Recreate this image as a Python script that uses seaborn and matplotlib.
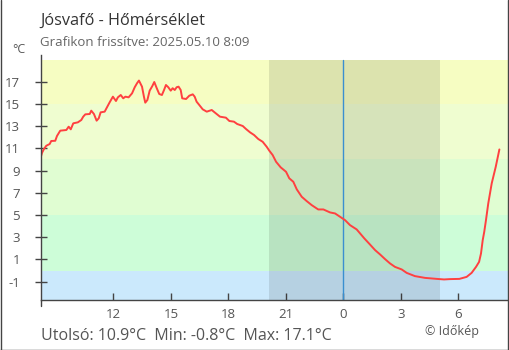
import matplotlib
matplotlib.use("Agg")
import matplotlib.pyplot as plt
from matplotlib.lines import Line2D
import seaborn as sns
import pandas as pd

# ---- data (hours since start of previous day; 24 = midnight) ----
hours = [8.20, 8.27, 8.37, 8.49, 8.67, 8.75, 8.96, 9.05, 9.22, 9.54, 9.66, 9.77, 9.90,
         10.14, 10.32, 10.42, 10.53, 10.76, 10.84, 10.98, 11.12, 11.23, 11.33, 11.54,
         11.66, 11.80, 11.97, 12.13, 12.23, 12.38, 12.51, 12.62, 12.79, 12.97, 13.11,
         13.23, 13.33, 13.49, 13.59, 13.66, 13.77, 13.89, 14.03, 14.13, 14.26, 14.39,
         14.53, 14.64, 14.74, 14.86, 14.99, 15.09, 15.20, 15.30, 15.40, 15.51, 15.59,
         15.79, 15.96, 16.14, 16.24, 16.34, 16.48, 16.66, 16.87, 17.13, 17.30, 17.56,
         17.87, 18.05, 18.29, 18.46, 18.75, 18.92, 19.13, 19.34, 19.56, 19.79, 20.00,
         20.14, 20.31, 20.49, 20.73, 21.01, 21.18, 21.39, 21.57, 21.83, 22.09, 22.35,
         22.69, 22.96, 23.31, 23.57, 23.83, 24.09, 24.35, 24.70, 25.10, 25.39, 25.66,
         25.92, 26.18, 26.44, 26.70, 27.05, 27.31, 27.74, 28.27, 28.88, 29.26, 29.57,
         30.06, 30.44, 30.70, 30.93, 31.09, 31.19, 31.28, 31.36, 31.45, 31.57, 31.75,
         31.96, 32.15]
temps = [10.19, 10.60, 10.94, 11.23, 11.39, 11.66, 11.68, 12.11, 12.59, 12.65, 12.95,
         12.71, 13.25, 13.34, 13.55, 13.85, 14.06, 14.09, 14.39, 14.09, 13.49, 13.70,
         14.24, 14.30, 14.69, 15.14, 15.65, 15.26, 15.59, 15.80, 15.50, 15.65, 15.59,
         15.95, 16.50, 16.86, 17.10, 16.55, 15.65, 15.11, 15.35, 16.19, 16.61, 16.97,
         16.41, 15.89, 15.80, 16.25, 16.70, 16.50, 16.19, 16.41, 16.25, 16.50, 16.55,
         16.25, 15.50, 15.44, 15.74, 15.86, 15.65, 15.20, 14.90, 14.51, 14.30, 14.45,
         14.21, 13.85, 13.76, 13.46, 13.40, 13.19, 13.01, 12.74, 12.44, 12.20, 11.84,
         11.59, 11.14, 10.78, 10.40, 9.79, 9.29, 8.89, 8.30, 7.99, 7.31, 6.64, 6.25,
         5.89, 5.50, 5.50, 5.23, 5.14, 4.84, 4.54, 4.09, 3.70, 2.89, 2.35, 1.84, 1.45,
         1.03, 0.64, 0.33, 0.10, -0.21, -0.50, -0.66, -0.75, -0.80, -0.77, -0.75,
         -0.57, -0.21, 0.33, 0.78, 1.54, 2.74, 3.49, 4.54, 6.05, 7.85, 9.34, 10.90]

ytick_values = [-1, 1, 3, 5, 7, 9, 11, 13, 15, 17]
xtick_positions = [12, 15, 18, 21, 24, 27, 30]
xtick_labels = ["12", "15", "18", "21", "0", "3", "6"]

band_edges = [-10, 0, 5, 10, 15, 18.95]
band_colors = ["#cbe9fc", "#cdfdd8", "#e0fdd2", "#effdd0", "#f6fdc2"]
night_start, night_end = 20.12, 29.05
midnight = 24

title = "Jósvafő - Hőmérséklet"
subtitle = "Grafikon frissítve: 2025.05.10 8:09"
unit = "°C"
footer = "Utolsó: 10.9°C  Min: -0.8°C  Max: 17.1°C"
credit = "© Időkép"

# ---- style ----
sns.set_theme(style="white")
plt.rcParams["font.family"] = ["Open Sans", "DejaVu Sans"]

W, H = 510, 350
fig = plt.figure(figsize=(W / 100, H / 100), dpi=100)
fig.patch.set_facecolor("white")

ax_left, ax_right, ax_top, ax_bottom = 40.7, 508.0, 55.0, 300.0
ax = fig.add_axes([ax_left / W, 1 - ax_bottom / H, (ax_right - ax_left) / W,
                   (ax_bottom - ax_top) / H])
ax.set_facecolor("white")
ylo, yhi = -2.65, 19.4
ax.set_ylim(ylo, yhi)
ax.set_xlim(8.2, 32.6)

for lo, hi, c in zip(band_edges[:-1], band_edges[1:], band_colors):
    ax.axhspan(lo, hi, color=c, lw=0, zorder=0)

band_top_frac = (band_edges[-1] - ylo) / (yhi - ylo)
ax.axvspan(night_start, night_end, ymin=0, ymax=band_top_frac, color="black",
           alpha=0.1, lw=0, zorder=1)
ax.axvline(midnight, ymin=0, ymax=band_top_frac, color="#3a8fd0", lw=1, zorder=2)

df = pd.DataFrame({"h": hours, "t": temps})
sns.lineplot(data=df, x="h", y="t", ax=ax, color="#ff4040", lw=1.4, zorder=3)

ax.set_xlabel("")
ax.set_ylabel("")
ax.set_yticks(ytick_values)
ax.set_yticklabels([str(v) for v in ytick_values])
ax.set_xticks(xtick_positions)
ax.set_xticklabels(xtick_labels)

for s in ["top", "right"]:
    ax.spines[s].set_visible(False)
for s in ["left", "bottom"]:
    ax.spines[s].set_color("#444444")
    ax.spines[s].set_linewidth(1)
    ax.spines[s].set_zorder(5)

ax.tick_params(axis="y", direction="inout", length=8.6, width=1, color="#444444",
               pad=10.6, labelsize=9.5, labelcolor="#555555", left=True)
ax.tick_params(axis="x", direction="in", length=5, width=1, color="#444444",
               pad=6, labelsize=9.5, labelcolor="#555555", bottom=True)

# small extension of the y axis below the x axis
ax.axvline(ax.get_xlim()[0], ymin=-0.025, ymax=0, color="#444444", lw=1, clip_on=False)

def fx(px):
    return px / W

def fy(py):
    return 1 - py / H

fig.text(fx(40), fy(25), title, fontsize=11.7, color="#333333", va="baseline")
fig.text(fx(40), fy(45.7), subtitle, fontsize=9.5, color="#666666", va="baseline")
fig.text(fx(12), fy(53.3), unit, fontsize=9, color="#555555", va="baseline")
fig.text(fx(40.7), fy(340), footer, fontsize=11.5, color="#555555", va="baseline")
fig.text(fx(425), fy(335), credit, fontsize=9, color="#555555", va="baseline")

# outer frame (left, right, bottom)
fig.add_artist(Line2D([0.5 / W, 0.5 / W], [0, 1], transform=fig.transFigure,
                      color="#444444", lw=1))
fig.add_artist(Line2D([508.5 / W, 508.5 / W], [0, 1], transform=fig.transFigure,
                      color="#444444", lw=1))
fig.add_artist(Line2D([0, 508.5 / W], [0.5 / H, 0.5 / H], transform=fig.transFigure,
                      color="#444444", lw=1))

fig.savefig("out.png", dpi=100)
